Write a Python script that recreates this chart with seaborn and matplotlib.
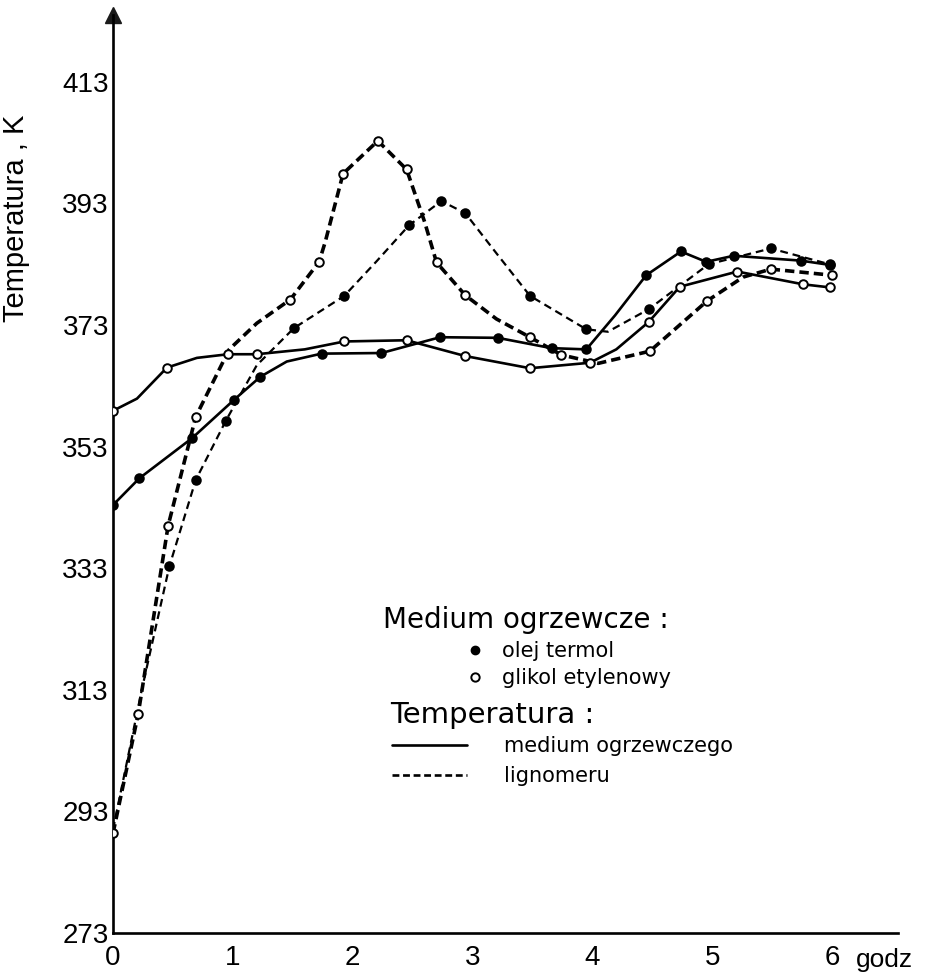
import matplotlib
matplotlib.use("Agg")
import matplotlib.pyplot as plt
from matplotlib.lines import Line2D
import seaborn as sns
import pandas as pd

# odczyty z wykresu: czas [godz], temperatura [K], 1 = punkt pomiarowy z kółkiem
czas_olej_med = [0, 0.22, 0.66, 1.01, 1.23, 1.45, 1.74, 2.24, 2.73, 3.21, 3.66, 3.95, 4.19, 4.45, 4.74, 4.95, 5.18, 5.74, 5.98]
temp_olej_med = [343.4, 347.8, 354.4, 360.7, 364.5, 367.0, 368.3, 368.4, 371.0, 370.9, 369.2, 369.0, 374.6, 381.2, 385.1, 383.4, 384.4, 383.6, 382.9]
pkt_olej_med = [1, 1, 1, 1, 1, 0, 1, 1, 1, 1, 1, 1, 0, 1, 1, 1, 1, 1, 1]

czas_glikol_med = [0, 0.2, 0.45, 0.7, 0.96, 1.2, 1.6, 1.93, 2.45, 2.94, 3.48, 3.98, 4.2, 4.47, 4.73, 5.21, 5.76, 5.98]
temp_glikol_med = [358.9, 360.9, 366.0, 367.6, 368.2, 368.2, 369.0, 370.3, 370.5, 367.9, 365.9, 366.8, 369.0, 373.5, 379.3, 381.8, 379.7, 379.2]
pkt_glikol_med = [1, 0, 1, 0, 1, 1, 0, 1, 1, 1, 1, 1, 0, 1, 1, 1, 1, 1]

czas_olej_lig = [0, 0.24, 0.47, 0.69, 0.94, 1.2, 1.51, 1.93, 2.2, 2.47, 2.74, 2.94, 3.2, 3.48, 3.95, 4.13, 4.47, 4.97, 5.49, 5.98]
temp_olej_lig = [290.0, 313.0, 333.3, 347.5, 357.2, 366.4, 372.5, 377.8, 383.5, 389.4, 393.4, 391.4, 384.8, 377.8, 372.3, 371.9, 375.6, 383.0, 385.6, 383.0]
pkt_olej_lig = [0, 0, 1, 1, 1, 0, 1, 1, 0, 1, 1, 1, 0, 1, 1, 0, 1, 1, 1, 1]

czas_glikol_lig = [0, 0.21, 0.46, 0.69, 0.97, 1.2, 1.48, 1.72, 1.77, 1.92, 2.21, 2.45, 2.6, 2.70, 2.94, 3.2, 3.48, 3.74, 4.05, 4.48, 4.96, 5.26, 5.49, 6.0]
temp_glikol_lig = [289.4, 309.0, 340.0, 357.9, 369.0, 373.3, 377.2, 383.4, 386.6, 397.9, 403.3, 398.6, 390.0, 383.3, 377.9, 374.0, 371.0, 368.1, 366.7, 368.7, 377.0, 380.9, 382.2, 381.2]
pkt_glikol_lig = [1, 1, 1, 1, 0, 0, 1, 1, 0, 1, 1, 1, 0, 1, 1, 0, 1, 1, 0, 1, 1, 0, 1, 1]

y_ticks = [273, 293, 313, 333, 353, 373, 393, 413]
x_ticks = [0, 1, 2, 3, 4, 5, 6]

sns.set_theme(style="white")
plt.rcParams['font.family'] = ['Liberation Sans', 'DejaVu Sans']
plt.rcParams['text.color'] = 'black'
plt.rcParams['axes.labelcolor'] = 'black'
plt.rcParams['xtick.color'] = 'black'
plt.rcParams['ytick.color'] = 'black'

fig = plt.figure(figsize=(9.31, 9.75), dpi=100)
ax = fig.add_axes([0.1214, 0.0431, 0.843, 0.9415])

serie = [
    (czas_olej_med, temp_olej_med, pkt_olej_med, '-', 1.9, 'black'),
    (czas_glikol_med, temp_glikol_med, pkt_glikol_med, '-', 1.9, 'white'),
    (czas_olej_lig, temp_olej_lig, pkt_olej_lig, (0, (3.5, 2.2)), 1.6, 'black'),
    (czas_glikol_lig, temp_glikol_lig, pkt_glikol_lig, (0, (2.6, 1.4)), 2.6, 'white'),
]

for x, y, m, ls, lw, face in serie:
    df = pd.DataFrame({'czas': x, 'temp': y, 'pkt': m})
    sns.lineplot(data=df, x='czas', y='temp', sort=False, estimator=None,
                 color='black', linewidth=lw, linestyle=ls, ax=ax, zorder=2)
    sns.scatterplot(data=df[df.pkt == 1], x='czas', y='temp', marker='o', s=38,
                    color=face, edgecolor='black', linewidth=1.4, ax=ax, zorder=3)

ax.set_xlim(0, 6.55)
ax.set_ylim(273, 424)
ax.set_xticks(x_ticks)
ax.set_yticks(y_ticks)
ax.set_xticklabels([str(v) for v in x_ticks])
ax.set_yticklabels([str(v) for v in y_ticks])
ax.tick_params(axis='both', direction='in', length=11, width=1.6, labelsize=20, color='black')
ax.tick_params(axis='y', pad=3)
ax.tick_params(axis='x', pad=9)

for s in ['top', 'right']:
    ax.spines[s].set_visible(False)
for s in ['left', 'bottom']:
    ax.spines[s].set_linewidth(1.9)
    ax.spines[s].set_color('black')

# strzałki na końcach osi
ax.plot(1, 0, '>k', markersize=11, transform=ax.get_yaxis_transform(), clip_on=False)
ax.plot(0, 1, '^k', markersize=11, transform=ax.get_xaxis_transform(), clip_on=False)

ax.set_xlabel('')
ax.set_ylabel('Temperatura , K', fontsize=21)
ax.yaxis.set_label_coords(-0.106, 0.779)
ax.text(0.947, -0.029, 'godz', transform=ax.transAxes, fontsize=19, va='center', ha='left')

# legenda
leg_font = ['DejaVu Sans']
ax.text(0.344, 0.341, 'Medium ogrzewcze :', transform=ax.transAxes, fontsize=20,
        va='center', ha='left', family=leg_font)
ax.text(0.353, 0.2375, 'Temperatura :', transform=ax.transAxes, fontsize=21,
        va='center', ha='left', family=leg_font)

h_pkt = [Line2D([], [], linestyle='none', marker='o', markersize=6, markerfacecolor='black', markeredgecolor='black'),
         Line2D([], [], linestyle='none', marker='o', markersize=6, markerfacecolor='white', markeredgecolor='black', markeredgewidth=1.4)]
leg1 = ax.legend(h_pkt, ['olej termol', 'glikol etylenowy'], loc='upper left', bbox_to_anchor=(0.448, 0.318),
                 frameon=False, prop={'family': leg_font, 'size': 15}, handlelength=1, handletextpad=0.78,
                 labelspacing=0.35, borderpad=0, borderaxespad=0)
ax.add_artist(leg1)

h_lin = [Line2D([], [], color='black', linewidth=1.9, linestyle='-'),
         Line2D([], [], color='black', linewidth=1.9, linestyle=(0, (2.6, 1.4)))]
ax.legend(h_lin, ['medium ogrzewczego', 'lignomeru'], loc='upper left', bbox_to_anchor=(0.355, 0.2146),
          frameon=False, prop={'family': leg_font, 'size': 15}, handlelength=3.6, handletextpad=1.8,
          labelspacing=0.5, borderpad=0, borderaxespad=0)

fig.savefig('out.png', dpi=100)
